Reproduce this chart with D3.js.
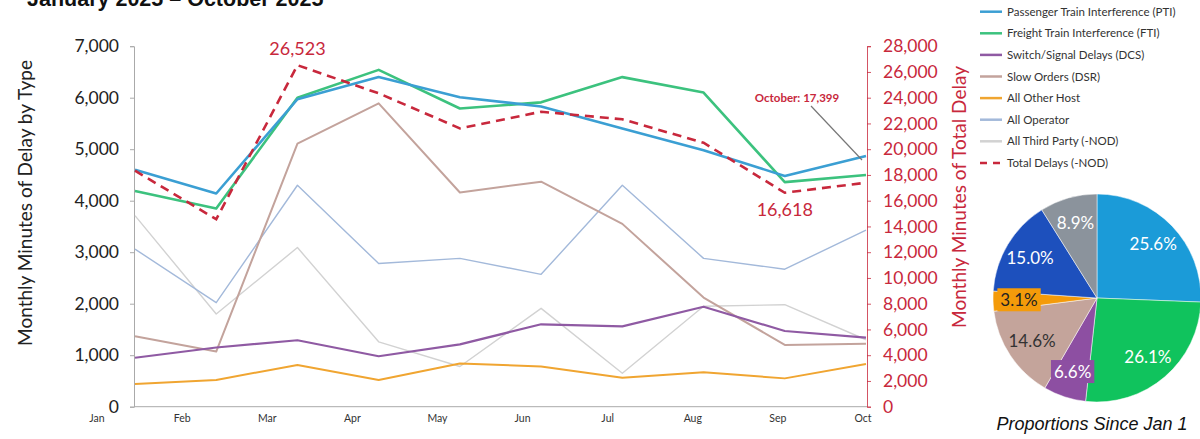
<!DOCTYPE html>
<html>
<head>
<meta charset="utf-8">
<script src="https://cdn.jsdelivr.net/npm/d3@7"></script>
<style>
  body { margin: 0; background: #fff; }
  svg { display: block; }
</style>
</head>
<body>
<div id="chart"></div>
<script>
// months and monthly delay minutes
var months = ['Jan', 'Feb', 'Mar', 'Apr', 'May', 'Jun', 'Jul', 'Aug', 'Sep', 'Oct'];

var pti = [4600, 4140, 5970, 6400, 6010, 5830, 5400, 4980, 4480, 4870];
var fti = [4190, 3850, 6000, 6540, 5790, 5910, 6400, 6100, 4360, 4500];
var dcs = [950, 1150, 1290, 980, 1210, 1600, 1560, 1940, 1470, 1340];
var dsr = [1370, 1070, 5110, 5890, 4160, 4370, 3550, 2120, 1200, 1220];
var otherHost = [440, 520, 810, 520, 840, 780, 560, 670, 550, 830];
var operator = [3060, 2020, 4300, 2780, 2880, 2570, 4300, 2880, 2670, 3430];
var thirdParty = [3710, 1800, 3090, 1260, 780, 1910, 650, 1950, 1980, 1300];
var totalDelays = [18330, 14560, 26523, 24340, 21620, 22910, 22320, 20500, 16618, 17399];

var leftTicks = [0, 1000, 2000, 3000, 4000, 5000, 6000, 7000];
var rightTicks = [0, 2000, 4000, 6000, 8000, 10000, 12000, 14000, 16000, 18000, 20000, 22000, 24000, 26000, 28000];

var seriesNames = ['Passenger Train Interference (PTI)', 'Freight Train Interference (FTI)',
    'Switch/Signal Delays (DCS)', 'Slow Orders (DSR)', 'All Other Host', 'All Operator',
    'All Third Party (-NOD)', 'Total Delays (-NOD)'];
var seriesColors = ['#3b9fd3', '#3cc27e', '#8f5aa3', '#c3a39c', '#f0a531', '#a3b9da', '#d2d2d2', '#c8283c'];

var pieLabels = ['25.6%', '26.1%', '6.6%', '14.6%', '3.1%', '15.0%', '8.9%'];
var pieValues = [25.6, 26.1, 6.6, 14.6, 3.1, 15.0, 8.9];
var pieColors = ['#1b9bd8', '#10c35d', '#8d4fa2', '#c4a49b', '#f49b0a', '#1d50bd', '#8b939c'];
var pieTextColors = ['#fff', '#fff', '#fff', '#333', '#222', '#fff', '#fff'];

var red = '#c8283c';
var font = 'Lato, "Noto Sans", sans-serif';

var svg = d3.select('#chart').append('svg')
    .attr('width', 1200)
    .attr('height', 439)
    .style('background', '#fff');

// title, cut off at the top of the picture as in the original
svg.append('text')
    .attr('x', 27).attr('y', 6)
    .style('font', 'bold 21.5px "Liberation Sans", Arial, sans-serif')
    .attr('fill', '#111')
    .text('January 2025 \u2013 October 2025');

// scales
var x = d3.scalePoint().domain(months).range([135, 866]);
var xLabel = d3.scalePoint().domain(months).range([97, 863]);
var yLeft = d3.scaleLinear().domain([0, 7000]).range([406.7, 46.2]);
var yRight = d3.scaleLinear().domain([0, 28000]).range([406.7, 46.2]);

// left axis
var gLeft = svg.append('g')
    .attr('transform', 'translate(134,0)')
    .call(d3.axisLeft(yLeft).tickValues(leftTicks).tickSize(4).tickPadding(11).tickFormat(d3.format(',')));
gLeft.select('.domain').attr('stroke', '#aaa');
gLeft.selectAll('.tick line').attr('stroke', '#aaa');
gLeft.selectAll('.tick text').style('font', '17.5px ' + font).attr('fill', '#222');

// right axis
var gRight = svg.append('g')
    .attr('transform', 'translate(867,0)')
    .call(d3.axisRight(yRight).tickValues(rightTicks).tickSize(4).tickPadding(12).tickFormat(d3.format(',')));
gRight.select('.domain').attr('stroke', red).attr('stroke-width', 0.8);
gRight.selectAll('.tick line').attr('stroke', red).attr('stroke-width', 0.8);
gRight.selectAll('.tick text').style('font', '17.5px ' + font).attr('fill', red);

// bottom line and month labels
svg.append('line')
    .attr('x1', 134).attr('x2', 867)
    .attr('y1', yLeft(0)).attr('y2', yLeft(0))
    .attr('stroke', '#aaa');

svg.selectAll('.month')
    .data(months)
    .enter()
    .append('text')
    .attr('class', 'month')
    .attr('x', function (d) { return xLabel(d); })
    .attr('y', 422)
    .attr('text-anchor', 'middle')
    .style('font', '10.5px ' + font)
    .attr('fill', '#333')
    .text(function (d) { return d; });

// axis titles
svg.append('text')
    .attr('transform', 'translate(32,203) rotate(-90)')
    .attr('text-anchor', 'middle')
    .style('font', '19px ' + font)
    .attr('fill', '#222')
    .text('Monthly Minutes of Delay by Type');

svg.append('text')
    .attr('transform', 'translate(966,197) rotate(-90)')
    .attr('text-anchor', 'middle')
    .style('font', '19px ' + font)
    .attr('fill', red)
    .text('Monthly Minutes of Total Delay');

// lines
var lineLeft = d3.line()
    .x(function (d, i) { return x(months[i]); })
    .y(function (d) { return yLeft(d); });
var lineRight = d3.line()
    .x(function (d, i) { return x(months[i]); })
    .y(function (d) { return yRight(d); });

var leftSeries = [
    { values: thirdParty, color: seriesColors[6], width: 1.4 },
    { values: operator, color: seriesColors[5], width: 1.4 },
    { values: otherHost, color: seriesColors[4], width: 2 },
    { values: dsr, color: seriesColors[3], width: 2 },
    { values: dcs, color: seriesColors[2], width: 2.2 },
    { values: fti, color: seriesColors[1], width: 2.6 },
    { values: pti, color: seriesColors[0], width: 2.6 }
];

svg.selectAll('.series')
    .data(leftSeries)
    .enter()
    .append('path')
    .attr('class', 'series')
    .attr('d', function (d) { return lineLeft(d.values); })
    .attr('fill', 'none')
    .attr('stroke', function (d) { return d.color; })
    .attr('stroke-width', function (d) { return d.width; })
    .attr('stroke-linejoin', 'round');

svg.append('path')
    .attr('d', lineRight(totalDelays))
    .attr('fill', 'none')
    .attr('stroke', red)
    .attr('stroke-width', 2.6)
    .attr('stroke-dasharray', '9,6');

// annotations on the total line
svg.append('text')
    .attr('x', x('Mar')).attr('y', yRight(totalDelays[2]) - 10)
    .attr('text-anchor', 'middle')
    .style('font', '18px ' + font)
    .attr('fill', red)
    .text(d3.format(',')(totalDelays[2]));

svg.append('text')
    .attr('x', x('Sep')).attr('y', yRight(totalDelays[8]) + 23)
    .attr('text-anchor', 'middle')
    .style('font', '18px ' + font)
    .attr('fill', red)
    .text(d3.format(',')(totalDelays[8]));

svg.append('line')
    .attr('x1', 811).attr('y1', 106)
    .attr('x2', x('Oct') - 4).attr('y2', 160)
    .attr('stroke', '#777')
    .attr('stroke-width', 1.2);

svg.append('text')
    .attr('x', 797).attr('y', 102)
    .attr('text-anchor', 'middle')
    .style('font', 'bold 11.5px ' + font)
    .attr('fill', red)
    .text('October: ' + d3.format(',')(totalDelays[9]));

// legend
var legend = svg.selectAll('.legend')
    .data(seriesNames)
    .enter()
    .append('g')
    .attr('class', 'legend')
    .attr('transform', function (d, i) { return 'translate(980,' + (11.7 + i * 21.6) + ')'; });

legend.append('line')
    .attr('x1', 0).attr('x2', 22)
    .attr('stroke', function (d, i) { return seriesColors[i]; })
    .attr('stroke-width', 2.5)
    .attr('stroke-dasharray', function (d, i) { return i === 7 ? '7,6' : null; });

legend.append('text')
    .attr('x', 27).attr('y', 4)
    .style('font', '11.5px ' + font)
    .attr('fill', '#333')
    .text(function (d) { return d; });

// pie of proportions since Jan 1
var pieCx = 1097, pieCy = 298, pieR = 104, labelR = 78;
var pie = d3.pie().sort(null).value(function (d) { return d; });
var arc = d3.arc().innerRadius(0).outerRadius(pieR);
var labelArc = d3.arc().innerRadius(labelR).outerRadius(labelR);

var gPie = svg.append('g').attr('transform', 'translate(' + pieCx + ',' + pieCy + ')');
var slices = pie(pieValues);

gPie.selectAll('path')
    .data(slices)
    .enter()
    .append('path')
    .attr('d', arc)
    .attr('fill', function (d, i) { return pieColors[i]; })
    .attr('stroke', '#fff')
    .attr('stroke-width', 0.5);

var pieText = gPie.selectAll('.plabel')
    .data(slices)
    .enter()
    .append('g')
    .attr('class', 'plabel')
    .attr('transform', function (d) { return 'translate(' + labelArc.centroid(d) + ')'; });

pieText.append('text')
    .attr('text-anchor', 'middle')
    .attr('dy', '0.35em')
    .style('font', '17px ' + font)
    .attr('fill', function (d, i) { return pieTextColors[i]; })
    .text(function (d, i) { return pieLabels[i]; });

// small slices get a box behind the label
pieText.each(function (d, i) {
    if (d.data >= 7) return;
    var g = d3.select(this);
    var b = g.select('text').node().getBBox();
    g.insert('rect', 'text')
        .attr('x', b.x - 3).attr('y', b.y - 1)
        .attr('width', b.width + 6).attr('height', b.height + 2)
        .attr('fill', pieColors[i]);
});

svg.append('text')
    .attr('x', 1092).attr('y', 430)
    .attr('text-anchor', 'middle')
    .style('font', 'italic 18px "Liberation Sans", Arial, sans-serif')
    .attr('fill', '#111')
    .text('Proportions Since Jan 1');
</script>
</body>
</html>
